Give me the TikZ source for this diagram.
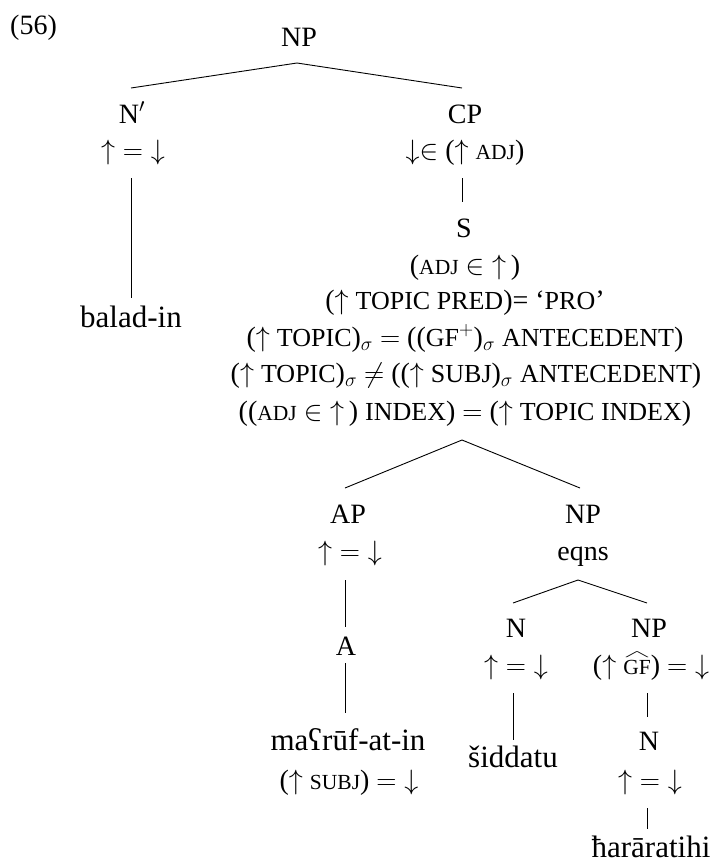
\RequirePackage{fix-cm}
\documentclass[tikz,border=0pt]{standalone}
\usepackage{fontspec}
\setmainfont{Liberation Serif}
\usetikzlibrary{calc}
\newcommand\smc[1]{{\fontsize{21.5}{22}\selectfont #1}}
\newcommand\cc[1]{{\fontsize{26}{28}\selectfont #1}}
\newcommand\wrd[1]{{\fontsize{31}{34}\selectfont #1}}
\newcommand\ud{${\uparrow}={\downarrow}$}
\newcommand\hatgf{{\setbox0\hbox{\smc{GF}}\rlap{\raisebox{\dimexpr\ht0+2pt\relax}{\resizebox{\wd0}{5.5pt}{$\wedge$}}}\box0}}
\begin{document}
\begin{tikzpicture}[x=1pt,y=-1pt,
  font=\fontsize{28}{34}\selectfont,
  every node/.style={inner sep=0pt,anchor=base},
  tedge/.style={line width=0.9pt}]
\useasboundingbox (0,0) rectangle (714,863);
% labels
\node[anchor=base west] (ex) at (10,34) {(56)};
\node (np1) at (299,46) {NP};
\node (nbar) at (132,123) {N$'$};
\node (nbarf) at (133,159) {\ud};
\node (balad) at (131,327) {\wrd{balad-in}};
\node (cp) at (465,123) {CP};
\node (cpf) at (465,159) {$\downarrow\in$ ($\uparrow$ \smc{ADJ})};
\node (s) at (464,237) {S};
\node (sf1) at (465,274) {(\smc{ADJ} $\in{\uparrow}$\,)};
\node (sf2) at (465,309) {($\uparrow$ \cc{TOPIC PRED})= ‘\cc{PRO}’};
\node (sf3) at (465,346) {($\uparrow$ \cc{TOPIC})$_\sigma$ $=$ ((\cc{GF}$^+$)$_\sigma$ \cc{ANTECEDENT})};
\node (sf4) at (466,382) {($\uparrow$ \cc{TOPIC})$_\sigma$ $\neq$ (($\uparrow$ \cc{SUBJ})$_\sigma$ \cc{ANTECEDENT})};
\node (sf5) at (465,420) {((\smc{ADJ} $\in{\uparrow}$\,) \cc{INDEX}) $=$ ($\uparrow$ \cc{TOPIC INDEX})};
\node (ap) at (348,523) {AP};
\node (apf) at (350,560) {\ud};
\node (np2) at (583,523) {NP};
\node (np2f) at (583,560) {eqns};
\node (a) at (346,655) {A};
\node (maruf) at (348,750) {\wrd{maʕrūf-at-in}};
\node (maruff) at (349,789) {($\uparrow$ \smc{SUBJ}) $={\downarrow}$};
\node (n1) at (516,637) {N};
\node (n1f) at (516,674) {\ud};
\node (sidd) at (513,767) {\wrd{šiddatu}};
\node (np3) at (649,637) {NP};
\node (np3f) at (651,674) {($\uparrow$ \hatgf) $={\downarrow}$};
\node (n2) at (649,750) {N};
\node (n2f) at (650,789) {\ud};
\node (har) at (651,857) {\wrd{ħarāratihi}};
% edges
\draw[tedge] ($(np1.base)+(-2,17)$) -- ($(nbar.base)+(-1,-35)$);
\draw[tedge] ($(np1.base)+(-2,17)$) -- ($(cp.base)+(-3,-35)$);
\draw[tedge] ($(nbarf.base)+(-2,19)$) -- ($(balad.base)+(0,-29)$);
\draw[tedge] ($(cpf.base)+(-3,19)$) -- ($(s.base)+(-2,-35)$);
\draw[tedge] ($(sf5.base)+(-3,20)$) -- ($(ap.base)+(-3,-35)$);
\draw[tedge] ($(sf5.base)+(-3,20)$) -- ($(np2.base)+(-3,-35)$);
\draw[tedge] ($(apf.base)+(-5,20)$) -- ($(a.base)+(-1,-28)$);
\draw[tedge] ($(a.base)+(-1,8)$) -- ($(maruf.base)+(-3,-37)$);
\draw[tedge] ($(np2f.base)+(-5,20)$) -- ($(n1.base)+(-3,-34)$);
\draw[tedge] ($(np2f.base)+(-5,20)$) -- ($(np3.base)+(-2,-34)$);
\draw[tedge] ($(n1f.base)+(-3,19)$) -- ($(sidd.base)+(0,-27)$);
\draw[tedge] ($(np3f.base)+(-4,19)$) -- ($(n2.base)+(-2,-33)$);
\draw[tedge] ($(n2f.base)+(-3,19)$) -- ($(har.base)+(-4,-28)$);
\end{tikzpicture}
\end{document}
